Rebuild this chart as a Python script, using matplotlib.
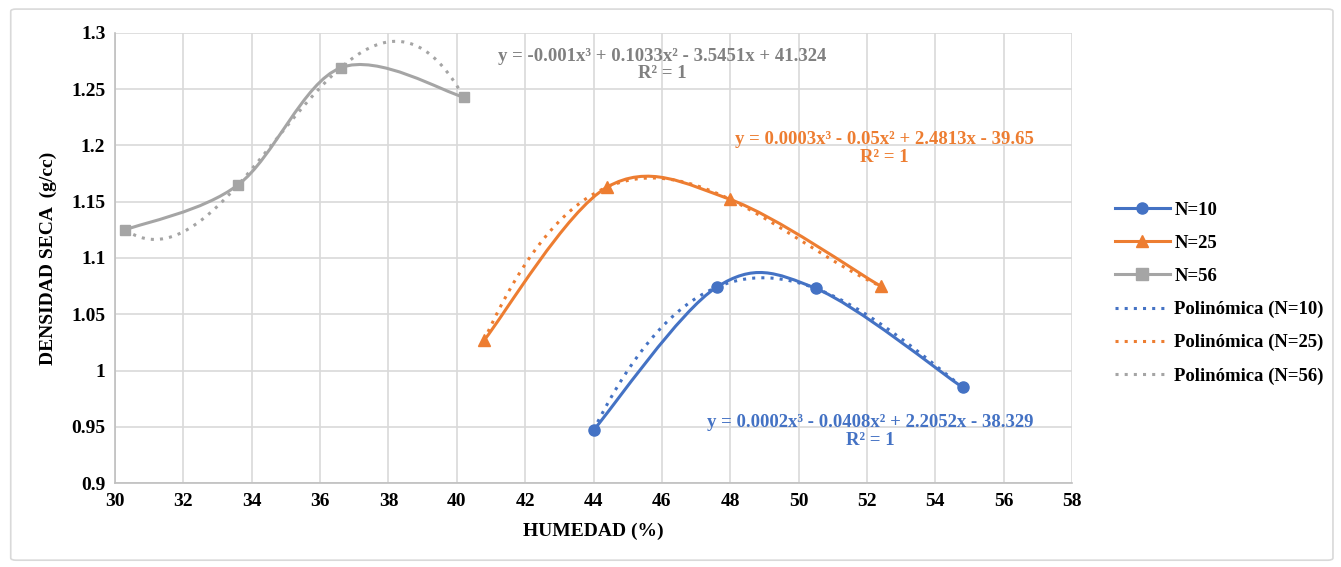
import numpy as np
import matplotlib
matplotlib.use("Agg")
import matplotlib.pyplot as plt
from matplotlib.path import Path
from matplotlib.patches import PathPatch, FancyBboxPatch
from matplotlib.lines import Line2D

plt.rcParams['font.family'] = ['Liberation Serif', 'DejaVu Serif']
plt.rcParams['font.weight'] = 'bold'
plt.rcParams['axes.labelweight'] = 'bold'

# data
hum_10 = [44.0, 47.6, 50.5, 54.8]
den_10 = [0.947, 1.074, 1.073, 0.985]
hum_25 = [40.8, 44.4, 48.0, 52.4]
den_25 = [1.027, 1.163, 1.152, 1.075]
hum_56 = [30.3, 33.6, 36.6, 40.2]
den_56 = [1.125, 1.165, 1.269, 1.243]

labels = ['N=10', 'N=25', 'N=56']
colors = ['#4472C4', '#ED7D31', '#A5A5A5']
markers = ['o', '^', 's']
eq_text = ['y = 0.0002x³ - 0.0408x² + 2.2052x - 38.329\nR² = 1',
           'y = 0.0003x³ - 0.05x² + 2.4813x - 39.65\nR² = 1',
           'y = -0.001x³ + 0.1033x² - 3.5451x + 41.324\nR² = 1']
eq_color = ['#4472C4', '#ED7D31', '#808080']
eq_pos = [(52.1, 0.946), (52.5, 1.197), (46.0, 1.2715)]


def smooth_path(x, y):
    # excel-like smoothed line: cubic bezier with catmull-rom style handles
    p = np.column_stack([x, y])
    n = len(p)
    verts = [p[0]]
    codes = [Path.MOVETO]
    for i in range(n - 1):
        p0 = p[i - 1] if i > 0 else p[i]
        p1 = p[i]
        p2 = p[i + 1]
        p3 = p[i + 2] if i + 2 < n else p[i + 1]
        c1 = p1 + (p2 - p0) / 6.0
        c2 = p2 - (p3 - p1) / 6.0
        verts += [c1, c2, p2]
        codes += [Path.CURVE4] * 3
    return Path(verts, codes)


fig = plt.figure(figsize=(13.41, 5.67), dpi=100)
border = FancyBboxPatch((0.008, 0.012), 0.986, 0.972, boxstyle="round,pad=0,rounding_size=0.004",
                        transform=fig.transFigure, facecolor='white', edgecolor='#D9D9D9', lw=1.2,
                        zorder=-10)
fig.patches.append(border)

ax = fig.add_axes([0.0858, 0.148, 0.7136, 0.794])
ax.patch.set_alpha(0)
ax.set_xlim(30, 58)
ax.set_ylim(0.9, 1.3)
ax.set_xticks(np.arange(30, 59, 2))
ax.set_yticks([0.9, 0.95, 1.0, 1.05, 1.1, 1.15, 1.2, 1.25, 1.3])
ax.set_yticklabels(['0.9', '0.95', '1', '1.05', '1.1', '1.15', '1.2', '1.25', '1.3'])
ax.grid(True, color='#D9D9D9', lw=1.2)
ax.set_axisbelow(True)
for s in ['top', 'right']:
    ax.spines[s].set_visible(False)
for s in ['left', 'bottom']:
    ax.spines[s].set_color('#BFBFBF')
    ax.spines[s].set_linewidth(1.2)
ax.tick_params(length=0, labelsize=14, pad=7)

series = [(hum_10, den_10), (hum_25, den_25), (hum_56, den_56)]
for (x, y), lab, c, m in zip(series, labels, colors, markers):
    ax.add_patch(PathPatch(smooth_path(x, y), facecolor='none', edgecolor=c, lw=2.2, zorder=3))
    ax.plot(x, y, ls='none', color=c, marker=m, markersize=8 if m != 's' else 7.5, zorder=4)

trend = []
for (x, y), lab, c in zip(series, labels, colors):
    coef = np.polyfit(x, y, 3)
    xs = np.linspace(x[0], x[-1], 200)
    t, = ax.plot(xs, np.polyval(coef, xs), ls=(0, (1, 2)), lw=2.2, color=c,
                 label='Polinómica (' + lab + ')', zorder=3)
    trend.append(t)

for txt, c, (px, py) in zip(eq_text, eq_color, eq_pos):
    ax.text(px, py, txt, color=c, fontsize=13.5, ha='center', va='center', linespacing=1.05)

ax.set_xlabel('HUMEDAD (%)', fontsize=14, labelpad=9)
ax.set_ylabel('DENSIDAD SECA  (g/cc)', fontsize=14, labelpad=10)

leg_h = [Line2D([], [], color=c, lw=2.2, marker=m, markersize=8) for c, m in zip(colors, markers)]
leg_h += trend
fig.legend(leg_h, labels + ['Polinómica (' + l + ')' for l in labels], loc='center left',
           bbox_to_anchor=(0.819, 0.483), frameon=False, fontsize=13.5, handlelength=2.9,
           labelspacing=0.85, handletextpad=0.25)

fig.savefig('out.png', dpi=100)
